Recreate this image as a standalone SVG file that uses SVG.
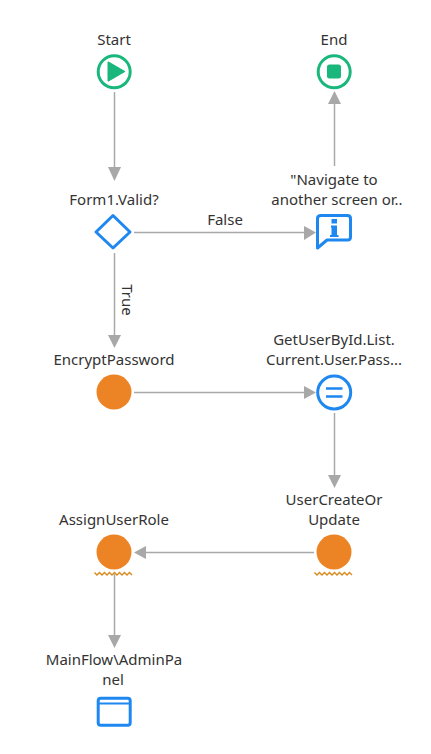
<svg xmlns="http://www.w3.org/2000/svg" width="431" height="754" viewBox="0 0 431 754">
<style>
text{font-family:"Noto Sans","Open Sans",sans-serif;font-size:15px;fill:#333;text-anchor:middle}
.c{fill:none;stroke:#a8a8a8;stroke-width:1.5}
.h{fill:#a8a8a8}
.b{fill:#fff;stroke:#1e88f0;stroke-width:3}
.g{fill:#fff;stroke:#1ab77d;stroke-width:3}
.o{fill:#ec8425}
.w{fill:none;stroke:#d98a1c;stroke-width:1.4}
</style>
<rect width="431" height="754" fill="#fff"/>
<g id="connectors">
<path class="c" d="M114.500 92V168"/><path class="h" d="M108 167H121L114.500 181Z"/>
<path class="c" d="M134 232.500H306"/><path class="h" d="M304 226V240L316 232.500Z"/>
<path class="c" d="M114.500 253V336"/><path class="h" d="M108 335H121L114.500 348Z"/>
<path class="c" d="M134 392.500H306"/><path class="h" d="M304 386V399L316 392.500Z"/>
<path class="c" d="M334.500 413V476"/><path class="h" d="M328 475H341L334.500 488Z"/>
<path class="c" d="M314 552.500H145"/><path class="h" d="M146 546V559L134 552.500Z"/>
<path class="c" d="M114.500 574V636"/><path class="h" d="M108 635H121L114.500 648Z"/>
<path class="c" d="M334.500 166V103"/><path class="h" d="M328 104H341L334.500 91Z"/>
</g>
<g id="edge-labels">
<text x="225" y="225">False</text>
<text transform="translate(122,300) rotate(90)" x="0" y="0">True</text>
</g>
<g id="start"><text x="114" y="45">Start</text><circle class="g" cx="114.200" cy="71.800" r="16"/><path d="M108.500 62.500L124 71.500L108.500 80.500Z" fill="#1ab77d" stroke="#1ab77d" stroke-width="2" stroke-linejoin="round"/></g>
<g id="end"><text x="334" y="45">End</text><circle class="g" cx="334.200" cy="71.800" r="16"/><rect x="327" y="64.500" width="14" height="14" rx="2.500" fill="#1ab77d"/></g>
<g id="valid"><text x="114" y="205">Form1.Valid?</text><path d="M113 215.500L130 232L113 248L96 232Z" fill="#fff" stroke="#1e88f0" stroke-width="3" stroke-linejoin="round"/></g>
<g id="message"><text x="334" y="185">"Navigate to</text><text x="337" y="205">another screen or..</text><path d="M321 215.500H347.500Q350.500 215.500 350.500 218.500V237Q350.500 240 347.500 240H327L317.500 248V218.500Q317.500 215.500 321 215.500Z" fill="#fff" stroke="#1e88f0" stroke-width="3" stroke-linejoin="round"/><rect x="331.500" y="219" width="5.500" height="4.500" fill="#1e88f0"/><path d="M331 225.500H337V235H338.500V237H330V235H331.500V227.500H331Z" fill="#1e88f0"/></g>
<g id="encrypt"><text x="114" y="365">EncryptPassword</text><circle class="o" cx="114" cy="392" r="17.500"/></g>
<g id="assign-pass"><text x="334" y="345">GetUserById.List.</text><text x="334" y="365">Current.User.Pass...</text><circle class="b" cx="334.200" cy="392.500" r="16.500"/><path d="M326 388.500H342.500M326 396.500H342.500" stroke="#1e88f0" stroke-width="2.500" fill="none"/></g>
<g id="create"><text x="334" y="505">UserCreateOr</text><text x="334" y="525">Update</text><circle class="o" cx="334" cy="552" r="17.500"/><path class="w" d="M314.500 572.500l2.500 2.500 2.500-2.500 2.500 2.500 2.500-2.500 2.500 2.500 2.500-2.500 2.500 2.500 2.500-2.500 2.500 2.500 2.500-2.500 2.500 2.500 2.500-2.500 2.500 2.500 2.500-2.500 2.500 2.500"/></g>
<g id="role"><text x="114" y="525">AssignUserRole</text><circle class="o" cx="114" cy="552" r="17.500"/><path class="w" d="M94.500 572.500l2.500 2.500 2.500-2.500 2.500 2.500 2.500-2.500 2.500 2.500 2.500-2.500 2.500 2.500 2.500-2.500 2.500 2.500 2.500-2.500 2.500 2.500 2.500-2.500 2.500 2.500 2.500-2.500 2.500 2.500"/></g>
<g id="admin"><text x="114" y="665">MainFlow\AdminPa</text><text x="113" y="685">nel</text><rect class="b" x="98.200" y="698.200" width="32" height="27" rx="2.500"/><path d="M98 703.500H130.500" stroke="#1e88f0" stroke-width="2" fill="none"/></g>
</svg>
